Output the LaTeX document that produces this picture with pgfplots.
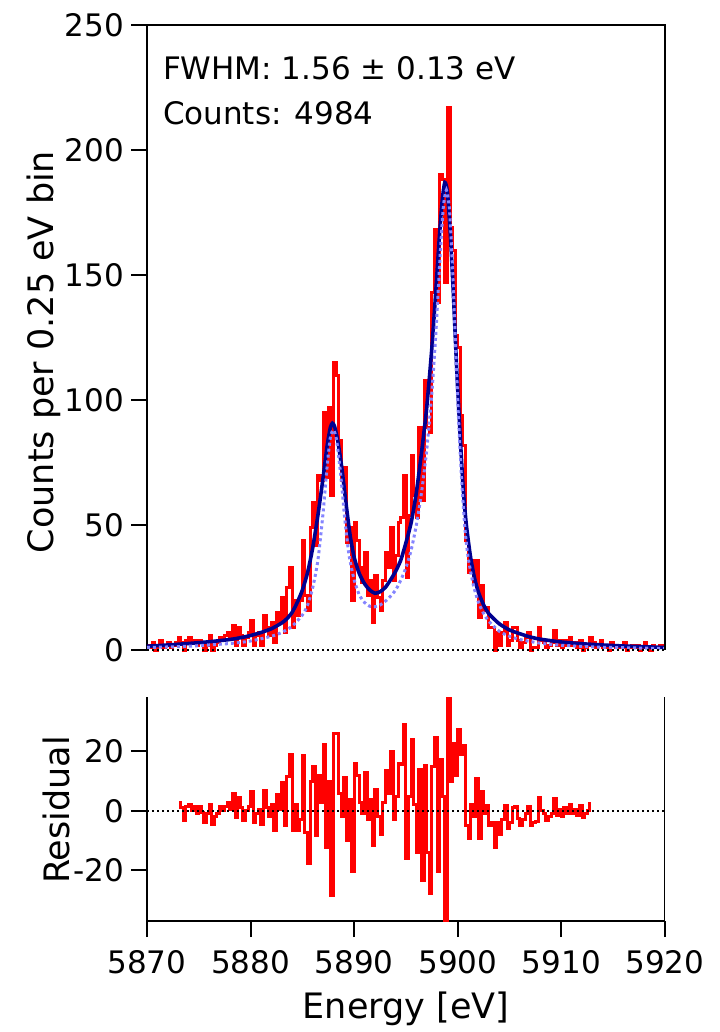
\documentclass[border=0pt]{standalone}
\usepackage{fontspec}
\setmainfont{DejaVu Sans}
\usepackage{pgfplots}
\pgfplotsset{compat=1.18}
\definecolor{datared}{HTML}{FF0000}
\definecolor{fitnavy}{HTML}{000090}
\definecolor{fitlight}{HTML}{8484FF}

\pgfplotsset{
  panel/.style={
    scale only axis, width=259pt,
    xmin=5870, xmax=5920,
    tick align=outside, major tick length=8pt,
    axis line style={line width=1pt},
    every tick/.style={black,line width=1pt},
    tick label style={font=\fontsize{15.5}{18}\selectfont},
    xticklabel style={yshift=-3pt},
    /pgf/number format/assume math mode=true,
    /pgf/number format/1000 sep={},
  },
  hist/.style={datared, line width=1.5pt, const plot mark mid},
}

\begin{document}
\begin{tikzpicture}
\useasboundingbox (0pt,0pt) rectangle (359.5pt,-516pt);

% spectrum with fit
\begin{axis}[panel, at={(73.5pt,-12.5pt)}, anchor=north west,
  height=312.5pt, ymin=0, ymax=250,
  axis x line=none, axis y line*=left,
  ytick={0,50,100,150,200,250}, clip=false]
\addplot[hist] coordinates {
(5870.125,2) (5870.375,1) (5870.625,3) (5870.875,0) (5871.125,2) (5871.375,4) (5871.625,1) (5871.875,2)
(5872.125,3) (5872.375,1) (5872.625,2) (5872.875,3)
(5873.125,5) (5873.375,3) (5873.625,0) (5873.875,4) (5874.125,5) (5874.375,3) (5874.625,4) (5874.875,2)
(5875.125,4) (5875.375,3) (5875.625,0) (5875.875,2) (5876.125,6) (5876.375,0) (5876.625,2) (5876.875,3)
(5877.125,5) (5877.375,4) (5877.625,6) (5877.875,7) (5878.125,5) (5878.375,10) (5878.625,2) (5878.875,9)
(5879.125,6) (5879.375,2) (5879.625,5) (5879.875,7) (5880.125,12) (5880.375,2) (5880.625,6) (5880.875,7)
(5881.125,2) (5881.375,14) (5881.625,9) (5881.875,6) (5882.125,11) (5882.375,3) (5882.625,15) (5882.875,11)
(5883.125,21) (5883.375,7) (5883.625,25) (5883.875,33) (5884.125,9) (5884.375,20) (5884.625,14) (5884.875,20)
(5885.125,44) (5885.375,22) (5885.625,16) (5885.875,49) (5886.125,59) (5886.375,42) (5886.625,70) (5886.875,68)
(5887.125,95) (5887.375,69) (5887.625,97) (5887.875,62) (5888.125,115) (5888.375,110) (5888.625,84) (5888.875,68)
(5889.125,73) (5889.375,43) (5889.625,49) (5889.875,20) (5890.125,51) (5890.375,44) (5890.625,33) (5890.875,27)
(5891.125,39) (5891.375,22) (5891.625,28) (5891.875,11) (5892.125,30) (5892.375,21) (5892.625,16) (5892.875,28)
(5893.125,39) (5893.375,33) (5893.625,49) (5893.875,28) (5894.125,38) (5894.375,51) (5894.625,53) (5894.875,70)
(5895.125,29) (5895.375,54) (5895.625,78) (5895.875,62) (5896.125,53) (5896.375,89) (5896.625,60) (5896.875,108)
(5897.125,89) (5897.375,87) (5897.625,143) (5897.875,168) (5898.125,139) (5898.375,190) (5898.625,188) (5898.875,147)
(5899.125,217) (5899.375,169) (5899.625,160) (5899.875,126) (5900.125,121) (5900.375,94) (5900.625,82) (5900.875,44)
(5901.125,31) (5901.375,36) (5901.625,27) (5901.875,36) (5902.125,13) (5902.375,26) (5902.625,16) (5902.875,17)
(5903.125,9) (5903.375,9) (5903.625,0) (5903.875,7) (5904.125,2) (5904.375,7) (5904.625,11) (5904.875,2)
(5905.125,4) (5905.375,9) (5905.625,9) (5905.875,4) (5906.125,1) (5906.375,3) (5906.625,5) (5906.875,7)
(5907.125,0) (5907.375,1) (5907.625,1) (5907.875,9) (5908.125,4) (5908.375,3) (5908.625,1) (5908.875,2)
(5909.125,3) (5909.375,8) (5909.625,2) (5909.875,4) (5910.125,1) (5910.375,4) (5910.625,2) (5910.875,5)
(5911.125,2) (5911.375,3) (5911.625,1) (5911.875,4) (5912.125,0) (5912.375,1) (5912.625,2) (5912.875,5)
(5913.125,3) (5913.375,1) (5913.625,2) (5913.875,4) (5914.125,1) (5914.375,2) (5914.625,0) (5914.875,3)
(5915.125,2) (5915.375,1) (5915.625,2) (5915.875,1) (5916.125,3) (5916.375,0) (5916.625,1) (5916.875,2)
(5917.125,1) (5917.375,2) (5917.625,0) (5917.875,1) (5918.125,3) (5918.375,1) (5918.625,0) (5918.875,2)
(5919.125,1) (5919.375,1) (5919.625,2) (5919.875,1)
};
% fitted line shape
\addplot[fitnavy, line width=1.8pt, smooth, tension=0.4] coordinates {
(5870,1.5) (5872,2.0) (5874,2.6) (5876,3.3) (5878,4.2) (5879,4.9) (5880,5.8) (5881,7.0)
(5882,8.5) (5883,10.8) (5883.5,12.5) (5884,15) (5884.5,19) (5885,24) (5885.5,31) (5886,41)
(5886.5,54) (5887,69) (5887.4,82) (5887.7,89) (5887.9,90.7) (5888.1,89.5) (5888.4,84) (5888.8,73)
(5889.2,59) (5889.6,46) (5890,37) (5890.5,30.5) (5891,26.5) (5891.5,24) (5892,22.7) (5892.5,23.3)
(5893,25) (5893.5,28) (5894,31.5) (5894.5,36) (5895,43) (5895.5,51) (5896,63) (5896.5,79)
(5897,97) (5897.5,121) (5897.9,145) (5898.2,164) (5898.5,180) (5898.75,187) (5899.0,183) (5899.3,165)
(5899.6,140) (5899.9,112) (5900.2,88) (5900.5,66) (5900.8,51) (5901.2,38) (5901.6,29) (5902,23)
(5902.5,18) (5903,14.5) (5904,10.5) (5905,8) (5906,6.5) (5907,5.2) (5908,4.3) (5910,3.2)
(5912,2.5) (5914,2.0) (5916,1.6) (5918,1.3) (5920,1.0)
};
% natural line shape
\addplot[fitlight, line width=1.5pt, dash pattern=on 1.5pt off 1.5pt, smooth, tension=0.4] coordinates {
(5870,1.0) (5874,1.5) (5878,2.6) (5880,3.6) (5882,5.5) (5883,7) (5884,9.5) (5885,14)
(5885.5,18) (5886,25) (5886.5,36) (5887,55) (5887.4,74) (5887.7,85) (5888.0,88) (5888.3,84)
(5888.7,70) (5889.1,52) (5889.5,38) (5890,28) (5890.5,22) (5891,19) (5891.5,17.5) (5892,17.3)
(5892.5,18) (5893,19.5) (5893.5,21.5) (5894,24) (5894.5,28) (5895,33) (5895.5,40) (5896,50)
(5896.5,63) (5897,80) (5897.5,103) (5897.9,128) (5898.3,158) (5898.6,177) (5898.9,184) (5899.2,176)
(5899.5,152) (5899.8,120) (5900.1,90) (5900.4,66) (5900.7,48) (5901,37) (5901.5,26) (5902,19)
(5902.5,14.5) (5903,11.5) (5904,7.5) (5905,5.5) (5906,4.2) (5908,2.7) (5910,1.9) (5914,1.1)
(5920,0.6)
};
\addplot[black, line width=1pt, dash pattern=on 1pt off 1.5pt] coordinates {(5870,0) (5920,0)};
\draw[line width=1pt] (rel axis cs:0,1) -- (rel axis cs:1,1) -- (rel axis cs:1,0);
\end{axis}

% residuals
\begin{axis}[panel, at={(73.5pt,-348.5pt)}, anchor=north west,
  height=112pt, ymin=-37, ymax=38.3,
  axis x line*=bottom, axis y line*=left,
  xtick={5870,5880,5890,5900,5910,5920}, ytick={-20,0,20}]
\addplot[hist] coordinates {
(5873.125,2.8) (5873.375,1) (5873.625,-3.3) (5873.875,1.5) (5874.125,2) (5874.375,0) (5874.625,1.5) (5874.875,-1)
(5875.125,1.5) (5875.375,-0.5) (5875.625,-4) (5875.875,-1) (5876.125,2.2) (5876.375,-4.4) (5876.625,-2) (5876.875,-1)
(5877.125,1.5) (5877.375,0) (5877.625,1.5) (5877.875,2.8) (5878.125,0.5) (5878.375,5.9) (5878.625,-2.2) (5878.875,4.5)
(5879.125,1) (5879.375,-3.3) (5879.625,0) (5879.875,1.5) (5880.125,6.5) (5880.375,-3.9) (5880.625,-1) (5880.875,0.5)
(5881.125,-4.7) (5881.375,6.9) (5881.625,1) (5881.875,-2) (5882.125,2) (5882.375,-6.7) (5882.625,5.4) (5882.875,0.5)
(5883.125,9.5) (5883.375,-5) (5883.625,11.5) (5883.875,18.9) (5884.125,-6.7) (5884.375,2) (5884.625,-6.7) (5884.875,-3)
(5885.125,18.6) (5885.375,-7.2) (5885.625,-17.8) (5885.875,10) (5886.125,14.8) (5886.375,-8.3) (5886.625,11.9) (5886.875,3)
(5887.125,22.2) (5887.375,-12.2) (5887.625,10) (5887.875,-28.3) (5888.125,26) (5888.375,26) (5888.625,6) (5888.875,-2)
(5889.125,11.1) (5889.375,-10) (5889.625,4) (5889.875,-20.3) (5890.125,15.9) (5890.375,11.9) (5890.625,3) (5890.875,-1)
(5891.125,13) (5891.375,-3) (5891.625,4) (5891.875,-11.7) (5892.125,7.2) (5892.375,-2) (5892.625,-7.8) (5892.875,3)
(5893.125,13.7) (5893.375,6) (5893.625,20) (5893.875,-3) (5894.125,5) (5894.375,16.1) (5894.625,15.6) (5894.875,28.9)
(5895.125,-16.1) (5895.375,5) (5895.625,23.9) (5895.875,2) (5896.125,-13.9) (5896.375,13.9) (5896.625,-23.3) (5896.875,15.2)
(5897.125,-13.9) (5897.375,-27.8) (5897.625,14.8) (5897.875,24.8) (5898.125,-20.3) (5898.375,17.2) (5898.625,5) (5898.875,-38)
(5899.125,41.5) (5899.375,10) (5899.625,22.8) (5899.875,12) (5900.125,27.5) (5900.375,18.9) (5900.625,21.9) (5900.875,-5)
(5901.125,-9.2) (5901.375,2) (5901.625,-2) (5901.875,10.9) (5902.125,-9.2) (5902.375,6.7) (5902.625,-1) (5902.875,1.9)
(5903.125,-5) (5903.375,-4) (5903.625,-12.2) (5903.875,-4) (5904.125,-7.8) (5904.375,-3) (5904.625,1.9) (5904.875,-6)
(5905.125,-4) (5905.375,1.2) (5905.625,1.4) (5905.875,-2.5) (5906.125,-5) (5906.375,-3) (5906.625,-1) (5906.875,1.4)
(5907.125,-5) (5907.375,-4) (5907.625,-3.5) (5907.875,4.5) (5908.125,0) (5908.375,-1) (5908.625,-3.3) (5908.875,-2)
(5909.125,-1) (5909.375,4.1) (5909.625,-1.5) (5909.875,0.5) (5910.125,-2) (5910.375,1) (5910.625,-1) (5910.875,2.2)
(5911.125,-1) (5911.375,0.5) (5911.625,-1.5) (5911.875,1.7) (5912.125,-2.2) (5912.375,-1) (5912.625,0) (5912.875,2.5)
};
\addplot[black, line width=1pt, dash pattern=on 1pt off 1.5pt] coordinates {(5870,0) (5920,0)};
\draw[line width=1pt] (rel axis cs:1,0) -- (rel axis cs:1,1);
\end{axis}

\node[anchor=base west, font=\fontsize{15.5}{18}\selectfont] at (78pt,-40pt) {FWHM: 1.56 ± 0.13 eV};
\node[anchor=base west, font=\fontsize{15.5}{18}\selectfont] at (78pt,-62.5pt) {Counts: 4984};
\node[anchor=base, rotate=90, font=\fontsize{17.5}{21}\selectfont] at (26.5pt,-176pt) {Counts per 0.25 eV bin};
\node[anchor=base, rotate=90, font=\fontsize{17.5}{21}\selectfont] at (34.5pt,-405pt) {Residual};
\node[anchor=base, font=\fontsize{17.5}{21}\selectfont] at (203pt,-509pt) {Energy [eV]};
\end{tikzpicture}
\end{document}
